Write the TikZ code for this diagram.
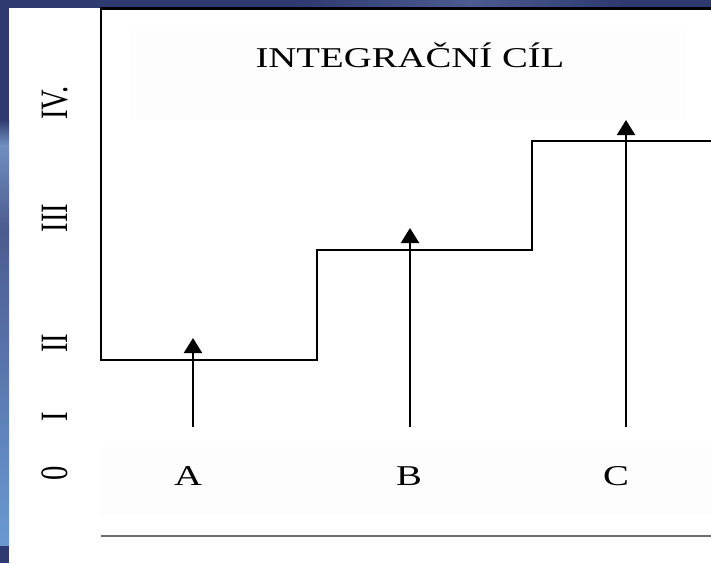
\documentclass[tikz,border=0pt]{standalone}
\usepackage{fontspec}
\setmainfont{Liberation Serif}
\usetikzlibrary{arrows.meta}

\definecolor{navy}{HTML}{2F3B70}
\definecolor{midblue}{HTML}{4C5B90}
\definecolor{lightblue}{HTML}{6F8FC0}
\definecolor{skyblue}{HTML}{6A9AD2}
\definecolor{panel}{HTML}{FDFDFD}
\definecolor{rulegray}{HTML}{6E6E6E}

% horizontally widened lettering, upright and turned
\newcommand\widetxt[1]{\scalebox{1.35}[1]{#1}}
\newcommand\upwidetxt[1]{\scalebox{1.35}[1]{\rotatebox{90}{#1}}}

\begin{document}
\begin{tikzpicture}[x=1pt,y=-1pt,
  lbl/.style={inner sep=0pt, font=\fontsize{28.7}{30}\selectfont},
  level/.style={lbl, anchor=east},
  stair/.style={line width=2.2pt, line join=miter},
  rise/.style={line width=2.2pt, -{Triangle[length=15pt,width=18pt]}}]
\useasboundingbox (0,0) rectangle (711,563);
\fill[white] (0,0) rectangle (711,563);

% blue backdrop along the top and the left edge
\fill[navy] (0,0) rectangle (711,8);
\shade[left color=navy, right color=midblue] (300,0) rectangle (470,8);
\shade[left color=midblue, right color=navy] (470,0) rectangle (620,8);
\fill[navy] (0,0) rectangle (9,120);
\shade[top color=navy, bottom color=lightblue] (0,120) rectangle (9,145);
\shade[top color=lightblue, bottom color=midblue] (0,145) rectangle (9,230);
\shade[top color=midblue, bottom color=skyblue] (0,230) rectangle (9,546);
\fill[navy] (0,546) rectangle (9,563);

% faint panels behind the texts
\fill[panel] (130,30) rectangle (687,120);
\fill[panel] (101,447) rectangle (711,515);

% frame and staircase
\draw[stair] (711,8.5) -- (101,8.5) -- (101,360) -- (317,360) -- (317,250)
  -- (532,250) -- (532,141) -- (711,141);
\draw[rulegray, line width=2.5pt] (101,536) -- (711,536);

% title
\node[lbl, anchor=base] (title) at (410,67) {\widetxt{INTEGRAČNÍ CÍL}};

% level marks
\node[level] (lvIV)  at (68,103) {\upwidetxt{IV.}};
\node[level] (lvIII) at (68,218) {\upwidetxt{III}};
\node[level] (lvII)  at (68,343) {\upwidetxt{II}};
\node[level] (lvI)   at (68,417) {\upwidetxt{I}};
\node[level] (lv0)   at (68,473) {\upwidetxt{0}};

% stages
\node[lbl, anchor=base] (A) at (188,485) {\widetxt{A}};
\node[lbl, anchor=base] (B) at (409,485) {\widetxt{B}};
\node[lbl, anchor=base] (C) at (616,485) {\widetxt{C}};

\coordinate (footA) at (193,427);
\coordinate (tipA)  at (193,338);
\coordinate (footB) at (410,427);
\coordinate (tipB)  at (410,228);
\coordinate (footC) at (626,427);
\coordinate (tipC)  at (626,120);
\draw[rise] (footA) -- (tipA);
\draw[rise] (footB) -- (tipB);
\draw[rise] (footC) -- (tipC);
\end{tikzpicture}
\end{document}
